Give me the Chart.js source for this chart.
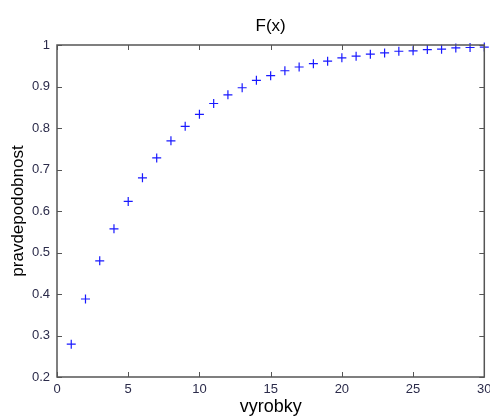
<!DOCTYPE html>
<html>
<head>
<meta charset="utf-8">
<script src="https://cdn.jsdelivr.net/npm/chart.js@4/dist/chart.umd.min.js"></script>
<style>
  html, body { margin: 0; padding: 0; background: #fff; }
  #wrap { width: 490px; height: 416px; }
</style>
</head>
<body>
<div id="wrap"><canvas id="cdfChart" width="490" height="416"></canvas></div>
<script>
// pocet vyrobku a hodnoty distribucni funkce F(x)
const xValues = [1, 2, 3, 4, 5, 6, 7, 8, 9, 10, 11, 12, 13, 14, 15,
                 16, 17, 18, 19, 20, 21, 22, 23, 24, 25, 26, 27, 28, 29, 30];
const fValues = [0.279, 0.388, 0.480, 0.557, 0.623, 0.680, 0.728, 0.769, 0.804, 0.833,
                 0.859, 0.880, 0.897, 0.915, 0.926, 0.938, 0.947, 0.955, 0.961, 0.969,
                 0.973, 0.978, 0.981, 0.985, 0.986, 0.989, 0.990, 0.993, 0.994, 0.995];
const xTicks = [0, 5, 10, 15, 20, 25, 30];
const yTicks = [0.2, 0.3, 0.4, 0.5, 0.6, 0.7, 0.8, 0.9, 1];

const AXIS_COLOR = '#555';
const LABEL_COLOR = '#2b2b4a';

// ramecek a ticky dovnitr (matlab styl)
const boxPlugin = {
    id: 'matlabBox',
    afterDatasetsDraw(chart) {
        const { ctx, chartArea: a, scales } = chart;
        const len = 5;
        ctx.save();
        ctx.strokeStyle = AXIS_COLOR;
        ctx.lineWidth = 1.5;
        ctx.strokeRect(a.left, a.top, a.right - a.left, a.bottom - a.top);
        ctx.lineWidth = 1;
        ctx.beginPath();
        xTicks.forEach(v => {
            const px = Math.round(scales.x.getPixelForValue(v)) + 0.5;
            ctx.moveTo(px, a.bottom); ctx.lineTo(px, a.bottom - len);
            ctx.moveTo(px, a.top); ctx.lineTo(px, a.top + len);
        });
        yTicks.forEach(v => {
            const py = Math.round(scales.y.getPixelForValue(v)) + 0.5;
            ctx.moveTo(a.left, py); ctx.lineTo(a.left + len, py);
            ctx.moveTo(a.right, py); ctx.lineTo(a.right - len, py);
        });
        ctx.stroke();
        ctx.restore();
    }
};

new Chart(document.getElementById('cdfChart'), {
    type: 'scatter',
    data: {
        datasets: [{
            label: 'F(x)',
            data: xValues.map((x, i) => ({ x: x, y: fValues[i] })),
            pointStyle: 'cross',
            pointRadius: 4.5,
            pointHoverRadius: 4.5,
            borderColor: 'rgb(25,25,255)',
            backgroundColor: 'rgb(25,25,255)',
            borderWidth: 1.2,
            clip: false
        }]
    },
    options: {
        responsive: false,
        animation: false,
        layout: { padding: { left: 0, right: 4, top: 0, bottom: 0 } },
        plugins: {
            legend: { display: false },
            tooltip: { enabled: false },
            title: {
                display: true,
                fullSize: false,
                text: 'F(x)',
                color: '#000',
                font: { family: 'Liberation Sans, Arial, sans-serif', size: 17, weight: 'normal', lineHeight: 1.2 },
                padding: { top: 16, bottom: 8.6 }
            }
        },
        scales: {
            x: {
                type: 'linear',
                min: 0,
                max: 30,
                afterBuildTicks: s => { s.ticks = xTicks.map(v => ({ value: v })); },
                afterFit: s => { s.height = 39; s.paddingLeft = 0; s.paddingRight = 0; },
                grid: { display: false, drawTicks: false },
                border: { display: false },
                ticks: {
                    color: LABEL_COLOR,
                    padding: 5,
                    maxRotation: 0,
                    font: { family: 'Liberation Sans, Arial, sans-serif', size: 13 }
                },
                title: {
                    display: true,
                    text: 'vyrobky',
                    color: '#000',
                    font: { family: 'Liberation Sans, Arial, sans-serif', size: 18, lineHeight: 1 },
                    padding: { top: -2, bottom: 0 }
                }
            },
            y: {
                type: 'linear',
                min: 0.2,
                max: 1,
                afterBuildTicks: s => { s.ticks = yTicks.map(v => ({ value: v })); },
                afterFit: s => { s.width = 57; s.paddingTop = 0; s.paddingBottom = 0; },
                grid: { display: false, drawTicks: false },
                border: { display: false },
                ticks: {
                    color: LABEL_COLOR,
                    padding: 7,
                    font: { family: 'Liberation Sans, Arial, sans-serif', size: 13 },
                    callback: v => String(Math.round(v * 10) / 10)
                },
                title: {
                    display: true,
                    text: 'pravdepodobnost',
                    color: '#000',
                    font: { family: 'Liberation Sans, Arial, sans-serif', size: 17, lineHeight: 1.2 },
                    padding: { top: 8, bottom: 0 }
                }
            }
        }
    },
    plugins: [boxPlugin]
});
</script>
</body>
</html>
